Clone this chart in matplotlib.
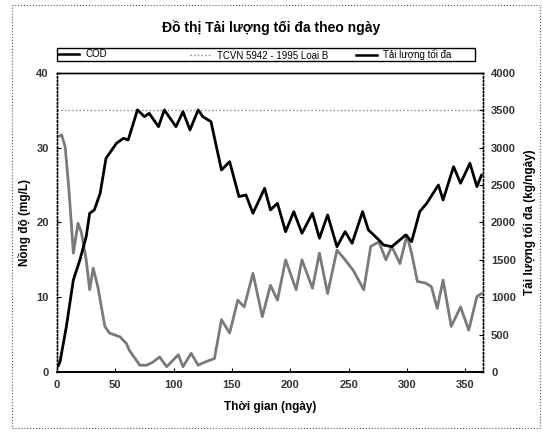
import matplotlib
matplotlib.use("Agg")
import matplotlib.pyplot as plt
from matplotlib.lines import Line2D
from matplotlib.patches import Rectangle

# ---------------- data ----------------
cod_days = [1, 4, 7, 10, 12.5, 14, 18, 21, 25, 28, 31, 35, 41, 45, 54, 59.5, 62, 71, 77, 82,
            88, 94, 99, 104, 108, 115, 121, 128, 135, 141, 148, 155, 160.5, 168, 176, 183,
            189, 196, 205, 210, 219, 225, 232, 240, 247, 254, 263, 269, 276, 282, 287, 294,
            300, 304, 309, 316, 321, 326, 331, 338, 346, 353, 360, 364]
cod_vals = [31.5, 31.7, 30.1, 24.8, 19.4, 15.9, 19.9, 18.6, 15.0, 11.0, 13.9, 11.4, 6.1, 5.2,
            4.7, 3.8, 2.9, 0.9, 0.9, 1.3, 2.0, 0.7, 1.5, 2.3, 0.7, 2.5, 0.9, 1.4, 1.8, 7.0, 5.2,
            9.6, 8.7, 13.2, 7.4, 11.6, 9.6, 15.0, 11.0, 15.0, 11.2, 15.9, 10.5, 16.3, 15.0,
            13.6, 11.0, 16.8, 17.4, 15.0, 16.8, 14.5, 18.3, 15.9, 12.1, 11.9, 11.4, 8.5, 12.3,
            6.1, 8.7, 5.6, 10.1, 10.5]

load_days = [1, 2.6, 8, 14, 19.6, 25, 28, 32, 37, 42, 51, 57, 61, 69, 75, 79, 87, 92, 102, 108,
             114, 121, 125, 132, 141, 148, 156, 162, 168, 178, 183, 189, 196, 203, 210, 219,
             225, 232, 240, 247, 253, 262, 267, 276, 280, 287, 299, 304, 311, 317, 327, 331,
             340, 346, 354, 360, 364]
load_vals = [80, 138, 606, 1231, 1498, 1810, 2123, 2168, 2391, 2859, 3060, 3127, 3104, 3506,
             3416, 3461, 3282, 3506, 3282, 3483, 3238, 3506, 3416, 3349, 2703, 2814, 2346, 2368,
             2123, 2458, 2168, 2257, 1877, 2145, 1856, 2123, 1789, 2101, 1676, 1877, 1722, 2145,
             1900, 1766, 1699, 1676, 1833, 1743, 2145, 2257, 2502, 2301, 2747, 2525, 2792, 2480,
             2636]

standard_cod = 35  # TCVN 5942-1995 Loai B
x_range = [0, 365]

x_ticks = [0, 50, 100, 150, 200, 250, 300, 350]
left_ticks = [0, 10, 20, 30, 40]
right_ticks = [0, 500, 1000, 1500, 2000, 2500, 3000, 3500, 4000]

title = "Đồ thị Tải lượng tối đa theo ngày"
xlabel = "Thời gian (ngày)"
ylabel_left = "Nồng độ (mg/L)"
ylabel_right = "Tải lượng tối đa (kg/ngày)"
legend_labels = ["COD", "TCVN 5942 - 1995 Loại B", "Tải lượng tối đa"]

# ---------------- figure ----------------
plt.rcParams['font.family'] = ['Liberation Sans', 'DejaVu Sans']
fig = plt.figure(figsize=(5.43, 4.32), dpi=100)
ax = fig.add_axes([0.105, 0.139, 0.784, 0.692])
ax2 = ax.twinx()

cod_color = "#7a7a7a"
l1, = ax.plot(cod_days, cod_vals, color=cod_color, lw=2.0, zorder=3,
              solid_joinstyle="round", solid_capstyle="round")
l2 = ax.axhline(standard_cod, color="#888888", lw=1.0, ls=":", zorder=2)
l3, = ax2.plot(load_days, load_vals, color="black", lw=2.0, zorder=3,
               solid_joinstyle="round", solid_capstyle="round")

ax.set_xlim(*x_range)
ax.set_ylim(0, 40)
ax2.set_ylim(0, 4000)
ax.set_xticks(x_ticks)
ax.set_yticks(left_ticks)
ax2.set_yticks(right_ticks)

for a in (ax, ax2):
    a.tick_params(direction="in", length=3, width=0.8, labelsize=8, pad=6)
    for s in ("left", "right"):
        a.spines[s].set_linestyle(":")
        a.spines[s].set_linewidth(1.0)
    a.spines["top"].set_linewidth(1.0)
    a.spines["bottom"].set_linewidth(1.2)
for lab in ax.get_xticklabels() + ax.get_yticklabels() + ax2.get_yticklabels():
    lab.set_fontweight("bold")
    lab.set_color("#333333")

ax.set_xlabel(xlabel, fontsize=8.5, fontweight="bold", labelpad=8)
ax.set_ylabel(ylabel_left, fontsize=8.5, fontweight="bold", labelpad=4)
ax2.set_ylabel(ylabel_right, fontsize=8.5, fontweight="bold", labelpad=5, rotation=90)

fig.text(0.5, 0.937, title, ha="center", va="center", fontsize=10, fontweight="bold")

# legend frame and entries
fig.add_artist(Rectangle((0.105, 0.858), 0.77, 0.032, transform=fig.transFigure,
                         fill=False, lw=1.0, ec="black"))
h1 = Line2D([], [], color="black", lw=1.8)
h2 = Line2D([], [], color="#888888", lw=1.0, ls=":")
h3 = Line2D([], [], color="black", lw=1.8)
leg1 = fig.legend([h1], [legend_labels[0]], loc="center left", bbox_to_anchor=(0.105, 0.874),
                  frameon=False, fontsize=7, handlelength=2.2, borderaxespad=0, borderpad=0.1,
                  handletextpad=0.6)
leg2 = fig.legend([h2, h3], legend_labels[1:], loc="center left", bbox_to_anchor=(0.348, 0.874),
                  ncol=2, frameon=False, fontsize=7, handlelength=2.2, borderaxespad=0,
                  borderpad=0.1, handletextpad=0.6, columnspacing=2.8)

# outer dotted border of the page
fig.add_artist(Rectangle((0.022, 0.01), 0.972, 0.978, transform=fig.transFigure,
                         fill=False, lw=0.8, ls=":", ec="#555555"))

fig.savefig("out.png", dpi=100)
